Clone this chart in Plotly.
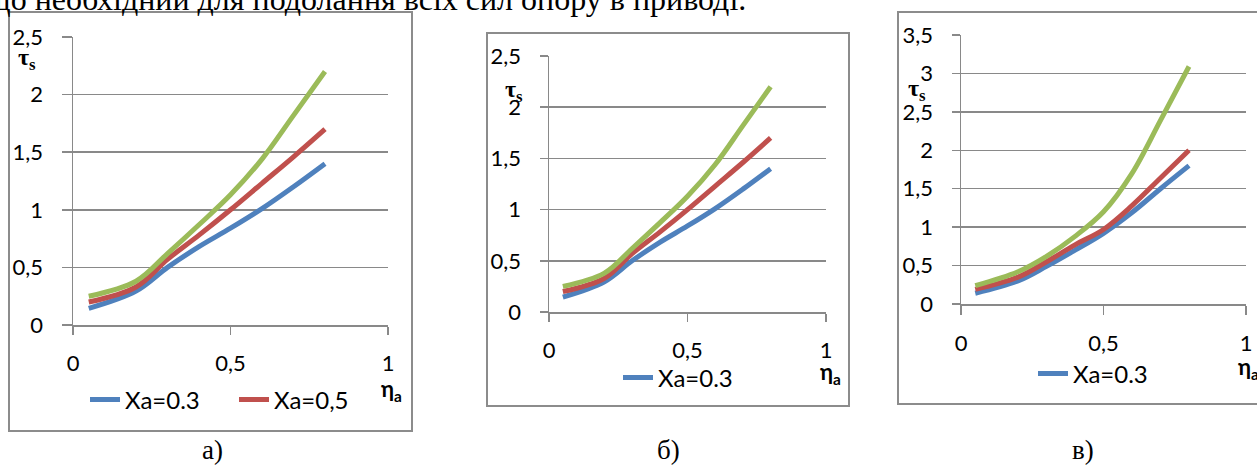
import plotly.graph_objects as go

W, H = 1257, 466

# ---------------- data ----------------
eta = [0.05, 0.2, 0.3, 0.4, 0.5, 0.6, 0.7, 0.8]

blue_a = [0.145, 0.295, 0.50, 0.68, 0.84, 1.01, 1.20, 1.40]
red_a = [0.20, 0.33, 0.57, 0.78, 1.00, 1.23, 1.46, 1.70]
green_a = [0.25, 0.38, 0.62, 0.87, 1.13, 1.44, 1.82, 2.20]

blue_b = [0.145, 0.295, 0.50, 0.68, 0.84, 1.01, 1.20, 1.40]
red_b = [0.20, 0.33, 0.57, 0.78, 1.00, 1.23, 1.46, 1.70]
green_b = [0.25, 0.38, 0.62, 0.87, 1.13, 1.44, 1.82, 2.20]

blue_c = [0.14, 0.30, 0.49, 0.70, 0.92, 1.19, 1.50, 1.80]
red_c = [0.19, 0.35, 0.55, 0.77, 0.97, 1.28, 1.64, 2.00]
green_c = [0.24, 0.42, 0.62, 0.88, 1.20, 1.70, 2.39, 3.09]

series_names = ["Xa=0.3", "Xa=0,5", "Xa=0,7"]

x_tickvals = [0, 0.5, 1]
x_ticktext = ["0", "0,5", "1"]
y_tickvals_ab = [0, 0.5, 1, 1.5, 2, 2.5]
y_ticktext_ab = ["0", "0,5", "1", "1,5", "2", "2,5"]
y_tickvals_c = [0, 0.5, 1, 1.5, 2, 2.5, 3, 3.5]
y_ticktext_c = ["0", "0,5", "1", "1,5", "2", "2,5", "3", "3,5"]

panel_labels = ["а)", "б)", "в)"]
top_text = "що необхідний для подолання всіх сил опору в приводі."

# ---------------- styles ----------------
COLORS = ["#4F81BD", "#C0504D", "#9BBB59"]
GRID = "#898989"
FONT = "Lato, 'Open Sans', sans-serif"
SERIF = "'Liberation Serif', 'Times New Roman', serif"


def px(x):
    return x / W


def py(y):
    return 1 - y / H


panels = [
    dict(data=[blue_a, red_a, green_a], plot=(73, 388, 37, 325), yr=2.5,
         yt=(y_tickvals_ab, y_ticktext_ab), box=(9, 412, 12, 431),
         legend_items=2, legend_xy=(85, 400), tau=(27, 59), eta_lbl=(391, 390),
         label=(212, 450), ylen=10, xlen=8),
    dict(data=[blue_b, red_b, green_b], plot=(549, 826, 56, 312), yr=2.5,
         yt=(y_tickvals_ab, y_ticktext_ab), box=(487, 849, 33, 406),
         legend_items=1, legend_xy=(618, 378), tau=(514, 91), eta_lbl=(830, 373),
         label=(668, 450), ylen=8, xlen=8),
    dict(data=[blue_c, red_c, green_c], plot=(961, 1246, 35, 304), yr=3.5,
         yt=(y_tickvals_c, y_ticktext_c), box=(898, 1262, 12, 404),
         legend_items=1, legend_xy=(1033, 374), tau=(917, 90), eta_lbl=(1248, 368),
         label=(1083, 450), ylen=8, xlen=9),
]

fig = go.Figure()
layout = dict(
    width=W, height=H, autosize=False,
    margin=dict(l=0, r=0, t=0, b=0, autoexpand=False),
    paper_bgcolor="white", plot_bgcolor="white",
    font=dict(family=FONT, size=20, color="black"),
    separators=", ",
)

shapes = []
annotations = []

for i, p in enumerate(panels):
    n = "" if i == 0 else str(i + 1)
    xa, ya = "x" + n, "y" + n
    leg = "legend" + n
    l, r, t, b = p["plot"]
    layout["xaxis" + n] = dict(
        domain=[px(l), px(r)], range=[0, 1], anchor=ya, automargin=False,
        tickvals=x_tickvals, ticktext=x_ticktext,
        ticks="outside", ticklen=p["xlen"], tickwidth=1.5, tickcolor=GRID,
        showline=True, linecolor=GRID, linewidth=1.5, showgrid=False,
        zeroline=False, ticklabelstandoff=10,
        tickfont=dict(family=FONT, size=22, color="black"), fixedrange=True,
    )
    layout["yaxis" + n] = dict(
        domain=[py(b), py(t)], range=[0, p["yr"]], anchor=xa, automargin=False,
        tickvals=p["yt"][0], ticktext=p["yt"][1],
        ticks="outside", ticklen=p["ylen"], tickwidth=1.5, tickcolor=GRID,
        showline=True, linecolor=GRID, linewidth=1.5,
        showgrid=True, gridcolor=GRID, gridwidth=1.5, zeroline=False,
        ticklabelstandoff=14,
        tickfont=dict(family=FONT, size=22, color="black"), fixedrange=True,
    )
    for k, ys in enumerate(p["data"]):
        fig.add_trace(go.Scatter(
            x=eta, y=ys, mode="lines", name=series_names[k],
            line=dict(color=COLORS[k], width=5, shape="spline", smoothing=1.0),
            xaxis=xa, yaxis=ya, legend=leg,
            showlegend=k < p["legend_items"],
        ))
    lx, ly = p["legend_xy"]
    layout[leg] = dict(
        x=px(lx), y=py(ly), xanchor="left", yanchor="middle",
        orientation="h", bgcolor="rgba(0,0,0,0)", borderwidth=0,
        font=dict(family=FONT, size=24, color="black"),
        entrywidth=104, entrywidthmode="pixels", itemclick=False,
        itemdoubleclick=False,
    )
    bl, br, bt, bb = p["box"]
    shapes.append(dict(type="rect", xref="paper", yref="paper",
                       x0=px(bl), x1=px(br), y0=py(bb), y1=py(bt),
                       line=dict(color="#8c8c8c", width=2), layer="below"))
    tx, ty = p["tau"]
    annotations.append(dict(text="<b>τ<sub>s</sub></b>", x=px(tx), y=py(ty),
                            xref="paper", yref="paper", showarrow=False,
                            xanchor="center", yanchor="middle",
                            font=dict(family=SERIF, size=24, color="black")))
    ex, ey = p["eta_lbl"]
    annotations.append(dict(text="<b>η<sub>a</sub></b>", x=px(ex), y=py(ey),
                            xref="paper", yref="paper", showarrow=False,
                            xanchor="center", yanchor="middle",
                            font=dict(family=FONT, size=22, color="black")))
    gx, gy = p["label"]
    annotations.append(dict(text=panel_labels[i], x=px(gx), y=py(gy),
                            xref="paper", yref="paper", showarrow=False,
                            xanchor="center", yanchor="middle",
                            font=dict(family=SERIF, size=27, color="black")))

annotations.append(dict(text=top_text, x=px(748), y=py(-1.0), xanchor="right",
                        yanchor="middle", xref="paper", yref="paper",
                        showarrow=False,
                        font=dict(family=SERIF, size=32, color="black")))

layout["shapes"] = shapes
layout["annotations"] = annotations
fig.update_layout(**layout)
fig.write_html(
    "out.html",
    config={"displayModeBar": False, "staticPlot": True},
    post_script="document.body.style.margin='0';document.body.style.overflow='hidden';",
)
